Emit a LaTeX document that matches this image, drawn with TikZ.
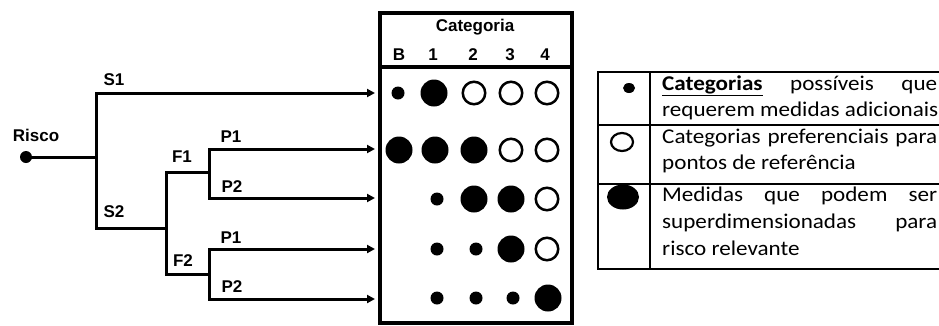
\documentclass[tikz,border=0pt]{standalone}
\usepackage{fontspec}
\setmainfont{Liberation Sans}
\newfontfamily\legfont[FakeStretch=1.1]{Carlito}
\usetikzlibrary{arrows.meta}
\begin{document}
\begin{tikzpicture}[x=1pt,y=-1pt,
  tree/.style={line width=3pt, line cap=rect},
  arr/.style={line width=3pt, line cap=rect, -{Triangle[length=8pt,width=8pt]}},
  lbl/.style={font=\bfseries\fontsize{17}{17}\selectfont, inner sep=0pt},
  sm/.style={circle, fill=black, minimum size=13pt, inner sep=0pt},
  bg/.style={circle, fill=black, minimum size=27pt, inner sep=0pt},
  op/.style={circle, draw=black, line width=2.5pt, minimum size=22.5pt, inner sep=0pt},
  lt/.style={anchor=base west, inner sep=0pt, font=\legfont\fontsize{21}{27}\selectfont},
  tab/.style={line width=2pt}]
\useasboundingbox (0,0) rectangle (939,325);
\clip (0,0) rectangle (939,325);
% tree
\node[circle, fill=black, minimum size=12pt, inner sep=0pt] (risco) at (26,157) {};
\node[lbl] (rlbl) at (36,135) {Risco};
\coordinate (j0) at (96,157);
\coordinate (s1) at (96,93);
\coordinate (s2) at (96,228);
\coordinate (f) at (166,228);
\coordinate (f1) at (166,172);
\coordinate (f2) at (166,274);
\coordinate (g1) at (209,172);
\coordinate (g1a) at (209,149);
\coordinate (g1b) at (209,198);
\coordinate (g2) at (209,274);
\coordinate (g2a) at (209,249);
\coordinate (g2b) at (209,299);
\coordinate (e1) at (375,93);
\coordinate (e2) at (375,149);
\coordinate (e3) at (375,198);
\coordinate (e4) at (375,249);
\coordinate (e5) at (375,299);
\draw[tree] (risco) -- (j0);
\draw[tree] (s1) -- (s2) -- (f);
\draw[tree] (f1) -- (f2);
\draw[tree] (f1) -- (g1);
\draw[tree] (f2) -- (g2);
\draw[tree] (g1a) -- (g1b);
\draw[tree] (g2a) -- (g2b);
\draw[arr] (s1) -- (e1);
\draw[arr] (g1a) -- (e2);
\draw[arr] (g1b) -- (e3);
\draw[arr] (g2a) -- (e4);
\draw[arr] (g2b) -- (e5);
\node[lbl] (ls1) at (114,80) {S1};
\node[lbl] (ls2) at (114,212) {S2};
\node[lbl] (lf1) at (182,157) {F1};
\node[lbl] (lf2) at (183,261) {F2};
\node[lbl] (lp1a) at (231,137) {P1};
\node[lbl] (lp2a) at (232,187) {P2};
\node[lbl] (lp1b) at (231,238) {P1};
\node[lbl] (lp2b) at (232,287) {P2};
% category box
\node[draw, line width=4pt, minimum width=192pt, minimum height=310pt, inner sep=0pt] (catbox) at (476,168) {};
\draw[line width=4pt] (catbox.west |- 0,67) -- (catbox.east |- 0,67);
\node[lbl] (cat) at (475,27) {Categoria};
\node[lbl] (hB) at (399,55) {B};
\node[lbl] (h1) at (433,55) {1};
\node[lbl] (h2) at (473,55) {2};
\node[lbl] (h3) at (510,55) {3};
\node[lbl] (h4) at (545,55) {4};
% row 1
\node[sm] (c1b) at (398,93) {};
\node[bg] (c11) at (434,93) {};
\node[op] (c12) at (474,93) {};
\node[op] (c13) at (511,93) {};
\node[op] (c14) at (547,93) {};
% row 2
\node[bg] (c2b) at (399,150) {};
\node[bg] (c21) at (435,150) {};
\node[bg] (c22) at (474,150) {};
\node[op] (c23) at (511,150) {};
\node[op] (c24) at (547,150) {};
% row 3
\node[sm] (c31) at (437,199) {};
\node[bg] (c32) at (474,199) {};
\node[bg] (c33) at (511,199) {};
\node[op] (c34) at (547,199) {};
% row 4
\node[sm] (c41) at (437,249) {};
\node[sm] (c42) at (476,249) {};
\node[bg] (c43) at (511,249) {};
\node[op] (c44) at (547,249) {};
% row 5
\node[sm] (c51) at (437,298) {};
\node[sm] (c52) at (476,298) {};
\node[sm] (c53) at (513,298) {};
\node[bg] (c54) at (548,298) {};
% legend table
\draw[tab] (598,72) rectangle (970,269);
\draw[tab] (650,72) -- (650,269);
\draw[tab] (598,125) -- (970,125);
\draw[tab] (598,184) -- (970,184);
\fill (629,88) ellipse [x radius=6pt, y radius=5pt];
\draw[line width=2.2pt] (622,142) ellipse [x radius=11pt, y radius=9pt];
\fill (623,197) ellipse [x radius=16pt, y radius=12.5pt];
\node[lt] (t1) at (662,90) {\makebox[275pt][s]{\textbf{\underline{Categorias}} possíveis que}};
\node[lt] (t2) at (662,116) {requerem medidas adicionais};
\node[lt] (t3) at (662,143) {\makebox[275pt][s]{Categorias preferenciais para}};
\node[lt] (t4) at (662,169) {pontos de referência};
\node[lt] (t5) at (662,201) {\makebox[275pt][s]{Medidas que podem ser}};
\node[lt] (t6) at (662,228) {\makebox[275pt][s]{superdimensionadas para}};
\node[lt] (t7) at (662,255) {risco relevante};
\end{tikzpicture}
\end{document}
